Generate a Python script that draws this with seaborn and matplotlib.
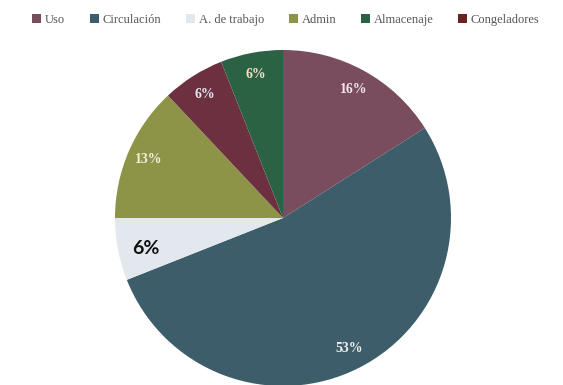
import matplotlib
matplotlib.use("Agg")
import matplotlib.pyplot as plt
import seaborn as sns
import numpy as np
from matplotlib.patches import Patch

# Data (clockwise from top)
categories = ["Uso", "Circulación", "A. de trabajo", "Admin", "Congeladores", "Almacenaje"]
values = [16, 53, 6, 13, 6, 6]
labels = ["16%", "53%", "6%", "13%", "6%", "6%"]
legend_order = ["Uso", "Circulación", "A. de trabajo", "Admin", "Almacenaje", "Congeladores"]

colors = {
    "Uso": "#7a4d5e",
    "Circulación": "#3c5d69",
    "A. de trabajo": "#e3e8ee",
    "Admin": "#8e9447",
    "Almacenaje": "#2b6244",
    "Congeladores": "#6d3041",
}
legend_colors = dict(colors)
legend_colors["Congeladores"] = "#6a2322"

sns.set_theme(style="white")
plt.rcParams["font.family"] = ["Liberation Serif", "DejaVu Serif"]

fig = plt.figure(figsize=(5.63, 3.85), dpi=100)
ax = fig.add_axes([115 / 563, (385 - 386) / 385, 336 / 563, 336 / 385])
pal = sns.color_palette([colors[c] for c in categories])
wedges, _ = ax.pie(values, colors=pal, startangle=90, counterclock=False,
                   radius=1.0, wedgeprops=dict(linewidth=0))
ax.set_xlim(-1, 1)
ax.set_ylim(-1, 1)
ax.set_aspect("equal")
ax.axis("off")

text_cols = ["#f4e6ea", "#f0f0f0", "#111111", "#f3eedc", "#e8e8f0", "#f2e2c8"]
for w, lab, tc, cat in zip(wedges, labels, text_cols, categories):
    mid = np.deg2rad((w.theta1 + w.theta2) / 2)
    r = 0.87
    x, y = r * np.cos(mid), r * np.sin(mid)
    if cat == "A. de trabajo":
        ax.text(x + 0.04, y - 0.02, lab, ha="center", va="center", fontsize=14,
                fontweight="bold", family=["Lato", "DejaVu Sans"], color=tc)
    else:
        ax.text(x, y, lab, ha="center", va="center", fontsize=10,
                fontweight="bold", color=tc)

handles = [Patch(facecolor=legend_colors[c], edgecolor="none") for c in legend_order]
fig.legend(handles, legend_order, loc="center", bbox_to_anchor=(0.508, 1 - 20 / 385),
           ncol=6, frameon=False, fontsize=9, handlelength=0.7, handleheight=0.7,
           handletextpad=0.3, columnspacing=2.0, labelcolor="#555555")

fig.savefig("out.png", dpi=100)
